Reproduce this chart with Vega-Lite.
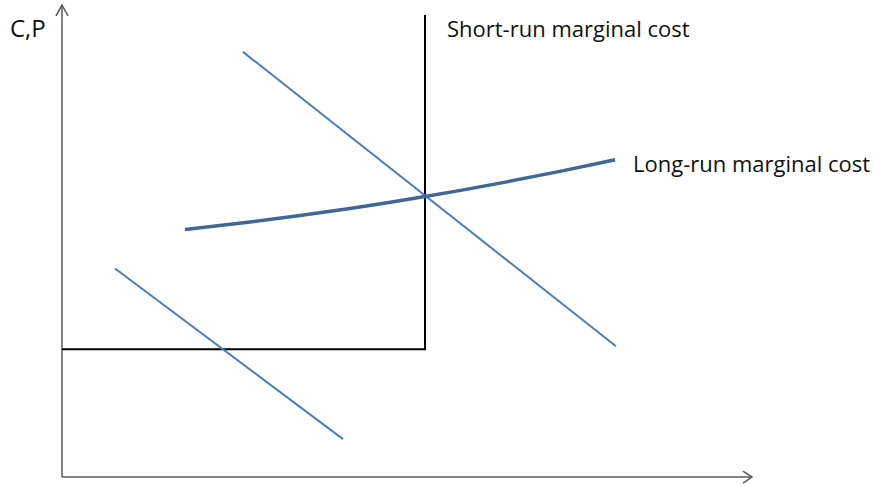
{
  "$schema": "https://vega.github.io/schema/vega-lite/v6.json",
  "width": 874,
  "height": 486,
  "autosize": {"type": "fit", "contains": "padding"},
  "padding": 0,
  "background": "white",
  "config": {"view": {"stroke": null}},
  "datasets": {
    "axes": [
      {"seg": "yaxis", "o": 1, "q": 62, "p": 8},
      {"seg": "yaxis", "o": 2, "q": 62, "p": 481},
      {"seg": "yarrow", "o": 1, "q": 56, "p": 470},
      {"seg": "yarrow", "o": 2, "q": 62, "p": 481},
      {"seg": "yarrow", "o": 3, "q": 68, "p": 470},
      {"seg": "xaxis", "o": 1, "q": 62, "p": 8},
      {"seg": "xaxis", "o": 2, "q": 752, "p": 8},
      {"seg": "xarrow", "o": 1, "q": 743, "p": 14},
      {"seg": "xarrow", "o": 2, "q": 752, "p": 8},
      {"seg": "xarrow", "o": 3, "q": 743, "p": 2}
    ],
    "srmc": [
      {"o": 1, "q": 62, "p": 136},
      {"o": 2, "q": 425, "p": 136},
      {"o": 3, "q": 425, "p": 471}
    ],
    "demand": [
      {"seg": "D1", "o": 1, "q": 243, "p": 434},
      {"seg": "D1", "o": 2, "q": 616, "p": 139},
      {"seg": "D2", "o": 1, "q": 115, "p": 217},
      {"seg": "D2", "o": 2, "q": 343, "p": 46}
    ],
    "lrmc": [
      {"o": 1, "q": 185, "p": 256},
      {"o": 2, "q": 250, "p": 263.5},
      {"o": 3, "q": 300, "p": 270},
      {"o": 4, "q": 350, "p": 277},
      {"o": 5, "q": 425, "p": 289},
      {"o": 6, "q": 500, "p": 302.5},
      {"o": 7, "q": 560, "p": 314.3},
      {"o": 8, "q": 615, "p": 326}
    ],
    "labels": [
      {"t": "Short-run marginal cost", "q": 447, "p": 449, "s": 22},
      {"t": "Long-run marginal cost", "q": 633, "p": 314, "s": 22},
      {"t": "C,P", "q": 10, "p": 449, "s": 24}
    ]
  },
  "encoding": {
    "x": {"field": "q", "type": "quantitative", "scale": {"domain": [0, 874], "nice": false, "zero": false}, "axis": null},
    "y": {"field": "p", "type": "quantitative", "scale": {"domain": [0, 486], "nice": false, "zero": false}, "axis": null}
  },
  "layer": [
    {
      "data": {"name": "axes"},
      "mark": {"type": "line", "color": "#595959", "strokeWidth": 1.5},
      "encoding": {"detail": {"field": "seg"}, "order": {"field": "o", "type": "quantitative"}}
    },
    {
      "data": {"name": "srmc"},
      "mark": {"type": "line", "color": "#000000", "strokeWidth": 2, "strokeJoin": "miter"},
      "encoding": {"order": {"field": "o", "type": "quantitative"}}
    },
    {
      "data": {"name": "demand"},
      "mark": {"type": "line", "color": "#4A7EBB", "strokeWidth": 2},
      "encoding": {"detail": {"field": "seg"}, "order": {"field": "o", "type": "quantitative"}}
    },
    {
      "data": {"name": "lrmc"},
      "mark": {"type": "line", "color": "#3F6797", "strokeWidth": 3.5, "interpolate": "monotone"},
      "encoding": {"order": {"field": "o", "type": "quantitative"}}
    },
    {
      "data": {"name": "labels"},
      "mark": {"type": "text", "align": "left", "baseline": "alphabetic", "font": "Open Sans", "color": "#111111"},
      "encoding": {
        "text": {"field": "t"},
        "size": {"field": "s", "type": "quantitative", "scale": null}
      }
    }
  ]
}
